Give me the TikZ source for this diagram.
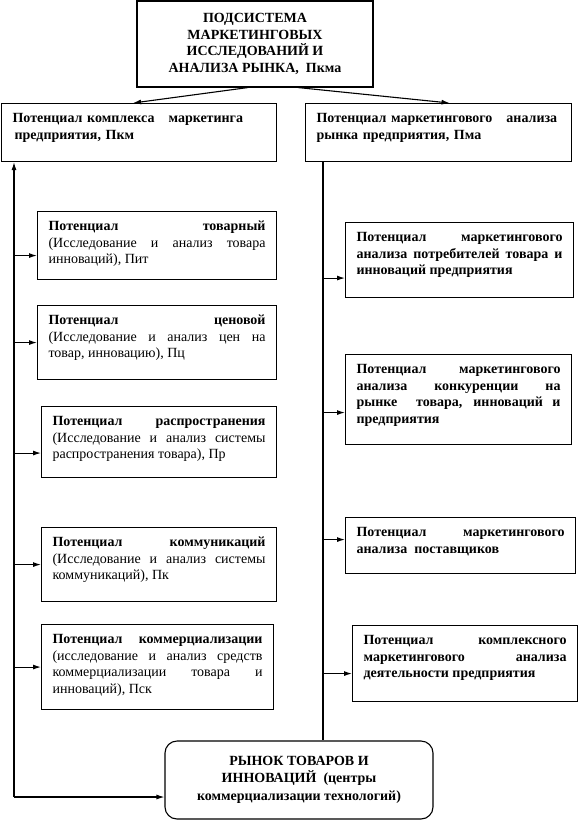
\documentclass[tikz,border=0pt]{standalone}
\usepackage{fontspec}
\setmainfont{Liberation Serif}
\usetikzlibrary{arrows.meta}

\begin{document}
\begin{tikzpicture}
    [x=1pt, y=-1pt, inner xsep=11pt, inner ysep=5pt, line width=1.1pt,
     >={Latex[length=8pt,width=5pt]},
     font=\fontsize{14}{16.6}\selectfont,
     strong/.style={font=\fontsize{14}{16.6}\selectfont\bfseries},
     block/.style={rectangle,draw=black,anchor=north west,text height=14pt},
     lbox/.style={block,align=justify},
     rbox/.style={block,strong,align=justify},
     head/.style={rectangle,draw=black,strong,align=center}]
    \useasboundingbox (0,0) rectangle (582,820);
    \node (top) at (255,44) [head,minimum width=236pt,minimum height=86pt]
         {ПОДСИСТЕМА\\ МАРКЕТИНГОВЫХ\\ ИССЛЕДОВАНИЙ И\\ АНАЛИЗА РЫНКА,~~Пкма};
    \node (pkm) at (1,103) [block,strong,align=left,text width=253pt,text depth=34pt]
         {Потенциал комплекса~~~маркетинга\\ \hspace{2pt}предприятия, Пкм};
    \node (pma) at (305,103) [block,strong,align=left,text width=244pt,text depth=34pt]
         {Потенциал маркетингового~~~анализа\\ рынка предприятия, Пма};
    % left column
    \node (pit) at (37,211) [lbox,text width=217pt,text depth=44pt]
         {\textbf{Потенциал товарный}\linebreak (Исследование и анализ товара\linebreak инноваций), Пит};
    \node (pc) at (37,305) [lbox,text width=217pt,text depth=50pt]
         {\textbf{Потенциал ценовой}\linebreak (Исследование и анализ цен на\linebreak товар, инновацию), Пц};
    \node (pr) at (41,406) [lbox,text width=213pt,text depth=47pt]
         {\textbf{Потенциал распространения}\linebreak (Исследование и анализ системы\linebreak распространения товара), Пр};
    \node (pk) at (41,527) [lbox,text width=213pt,text depth=50pt]
         {\textbf{Потенциал коммуникаций}\linebreak (Исследование и анализ системы\linebreak коммуникаций), Пк};
    \node (psk) at (41,624) [lbox,text width=210pt,text depth=61pt]
         {\textbf{Потенциал коммерциализации}\linebreak (исследование и анализ средств\linebreak коммерциализации товара и\linebreak инноваций), Пск};
    % right column
    \node (rpot) at (345,222) [rbox,text width=206pt,text depth=51pt]
         {Потенциал маркетингового\linebreak анализа потребителей товара и\linebreak инноваций предприятия};
    \node (rkon) at (345,354) [rbox,text width=204pt,text depth=66pt]
         {Потенциал маркетингового\linebreak анализа конкуренции на\linebreak рынке~~товара, инноваций и\linebreak предприятия};
    \node (rpost) at (345,517) [rbox,text width=208pt,text depth=32pt]
         {Потенциал маркетингового\linebreak анализа~~поставщиков};
    \node (rkompl) at (352,625) [rbox,text width=203pt,text depth=52pt]
         {Потенциал комплексного\linebreak маркетингового анализа\linebreak деятельности предприятия};
    \node (rynok) at (299,780) [head,rounded corners=12pt,minimum width=268pt,minimum height=78pt]
         {РЫНОК ТОВАРОВ И\\ ИННОВАЦИЙ~~(центры\\[2pt] коммерциализации технологий)};
    % connectors
    \draw [->] ([xshift=-7pt]top.south) -- ([xshift=-6pt]pkm.north);
    \draw [->] ([xshift=43pt]top.south) -- ([xshift=11pt]pma.north);
    \coordinate (lx) at (14,797);
    \coordinate (rx) at (323,161);
    \coordinate (pitin) at ([yshift=-10pt]pit.west);
    \coordinate (prin) at ([yshift=-11pt]pr.west);
    \coordinate (rpotin) at ([yshift=-18pt]rpot.west);
    \coordinate (rkonin) at ([yshift=-13pt]rkon.west);
    \coordinate (rpostin) at ([yshift=6pt]rpost.west);
    \coordinate (rkomplin) at ([yshift=-10pt]rkompl.west);
    \draw [->] (lx) -- (lx |- pkm.south);
    \draw [->] (lx) -- (lx -| rynok.west);
    \draw [->] (lx |- pitin) -- (pitin);
    \draw [->] (lx |- pc.west) -- (pc.west);
    \draw [->] (lx |- prin) -- (prin);
    \draw [->] (lx |- pk.west) -- (pk.west);
    \draw [->] (lx |- psk.west) -- (psk.west);
    \draw (rx) -- (rx |- rynok.north);
    \draw [->] (rx |- rpotin) -- (rpotin);
    \draw [->] (rx |- rkonin) -- (rkonin);
    \draw [->] (rx |- rpostin) -- (rpostin);
    \draw [->] (rx |- rkomplin) -- (rkomplin);
\end{tikzpicture}
\end{document}
